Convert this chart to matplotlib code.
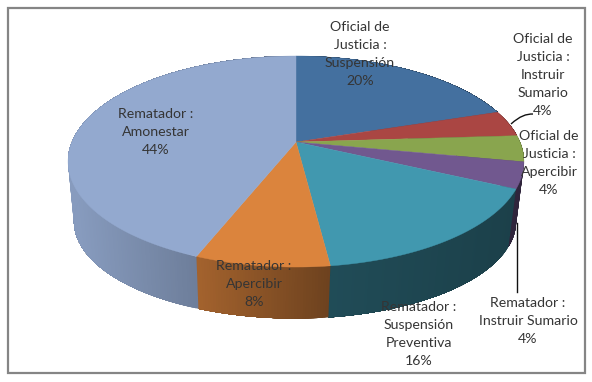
import numpy as np
import matplotlib
matplotlib.use('Agg')
import matplotlib.pyplot as plt
from matplotlib.patches import Polygon, Rectangle
from matplotlib.path import Path
from matplotlib.patches import PathPatch

# Slices, clockwise from the top
labels = ['Oficial de\nJusticia :\nSuspensión',
          'Oficial de\nJusticia :\nInstruir\nSumario',
          'Oficial de\nJusticia :\nApercibir',
          'Rematador :\nInstruir Sumario',
          'Rematador :\nSuspensión\nPreventiva',
          'Rematador :\nApercibir',
          'Rematador :\nAmonestar']
values = [20, 4, 4, 4, 16, 8, 44]
colors = ['#44709f', '#aa4643', '#89a54e', '#71588f', '#4198af', '#db843d', '#93a9cf']
label_x = [360, 543, 549, 528, 419, 254, 156]
label_y = [54, 75, 163, 321, 334, 284, 132]

# Perspective of the pie's top face, in pixels
APEX_X, APEX_Y = 296, 142
A, B, K = 224, 101.9, 0.185


def top_rim(theta):
    # theta runs clockwise from the top of the disc
    u, v = np.sin(theta), np.cos(theta)
    den = 1 + K * v
    return APEX_X + A * u / den, APEX_Y - B * v / den


def bottom_rim(theta):
    x, y = top_rim(theta)
    return 296 + 0.97 * (x - 297), 221 + 0.92 * (y - 161)


def wall_shade(x):
    return np.interp(x, [75, 200, 330, 520], [0.92, 0.74, 0.50, 0.42])


fig = plt.figure(figsize=(5.92, 3.82), dpi=100)
ax = fig.add_axes([0, 0, 1, 1])
ax.set_xlim(0, 592)
ax.set_ylim(382, 0)
ax.axis('off')

ax.add_patch(Rectangle((7.5, 7.5), 577, 365, fc='white', ec='#858585', lw=1.6))

edges = np.cumsum([0] + values) / sum(values) * 2 * np.pi

# Side wall first, the top face covers what is behind it.
# Each strip runs on to the slice end so no seams show between strips
for i, color in enumerate(colors):
    base = np.array(matplotlib.colors.to_rgb(color))
    t = np.linspace(edges[i], edges[i + 1], max(6, values[i] * 6))
    for j in range(len(t) - 1):
        rest = np.linspace(t[j], edges[i + 1], max(3, 3 * (len(t) - j)))
        x1, y1 = top_rim(rest)
        x2, y2 = bottom_rim(rest[::-1])
        xm = (top_rim(t[j])[0] + top_rim(t[j + 1])[0]) / 2
        shade = wall_shade(xm)
        ax.add_patch(Polygon(np.column_stack([np.r_[x1, x2], np.r_[y1, y2]]),
                             fc=base * shade, ec='none', zorder=2))

# Top face
for i, color in enumerate(colors):
    t = np.linspace(edges[i], edges[i + 1], max(10, values[i] * 5))
    x, y = top_rim(t)
    ax.add_patch(Polygon(np.column_stack([np.r_[APEX_X, x], np.r_[APEX_Y, y]]),
                         fc=color, ec=color, lw=0.3, zorder=3))

# Leader lines
leader = Path([(511, 124), (520, 116), (526, 114), (533, 114)],
              [Path.MOVETO, Path.CURVE4, Path.CURVE4, Path.CURVE4])
ax.add_patch(PathPatch(leader, fc='none', ec='#111111', lw=1.0, zorder=4))
ax.plot([517, 517], [223, 292], color='#111111', lw=1.0, zorder=4)

# Data labels
for label, value, x, y in zip(labels, values, label_x, label_y):
    ax.text(x, y, f'{label}\n{value}%', ha='center', va='center', ma='center',
            family='Lato', fontsize=10.2, color='#353535', linespacing=1.6, zorder=5)

fig.savefig('out.png', dpi=100)
